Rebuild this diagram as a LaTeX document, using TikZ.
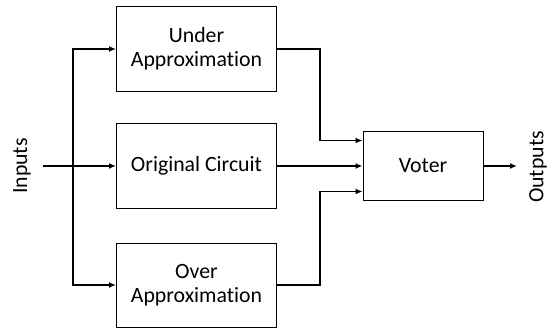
\documentclass[tikz,border=0pt]{standalone}
\usepackage{fontspec}
\setmainfont{Carlito}[RawFeature=-liga]
\usetikzlibrary{arrows.meta,calc}
\begin{document}
\begin{tikzpicture}[x=1pt,y=-1pt,
  box/.style={draw=black,line width=1pt,minimum width=160pt,align=center,font=\fontsize{21.8}{24}\selectfont,inner sep=0pt},
  arr/.style={line width=1.6pt,-{Latex[length=7pt,width=6pt]}},
  lbl/.style={rotate=90,font=\fontsize{21.8}{24}\selectfont,inner sep=0pt}]
\useasboundingbox (0,0) rectangle (551,329);
\node[box,minimum height=84pt] (under) at (196.5,49) {Under\\Approximation};
\node[box,minimum height=85pt] (orig) at (196.5,165.5) {Original Circuit};
\node[box,minimum height=84pt] (over) at (196.5,285) {Over\\Approximation};
\node[box,minimum width=120pt,minimum height=69pt] (voter) at (423,165.5) {Voter};
\node[lbl] (inputs) at (22,166) {Inputs};
\node[lbl] (outputs) at (538,167) {Outputs};
\coordinate (in) at (43,166);
\coordinate (split) at (73,166);
\coordinate (outend) at (517,166);
\coordinate (v1) at ($(voter.west)+(0,-25)$);
\coordinate (v3) at ($(voter.west)+(0,26)$);
\draw[arr] (in) -- (orig.west |- in);
\draw[arr] (split) |- (under.west);
\draw[arr] (split) |- (over.west);
\draw[arr] (under.east) -- ++(43,0) |- (v1);
\draw[arr] (orig.east |- in) -- (voter.west |- in);
\draw[arr] (over.east) -- ++(43,0) |- (v3);
\draw[arr] (voter.east |- in) -- (outend);
\end{tikzpicture}
\end{document}
